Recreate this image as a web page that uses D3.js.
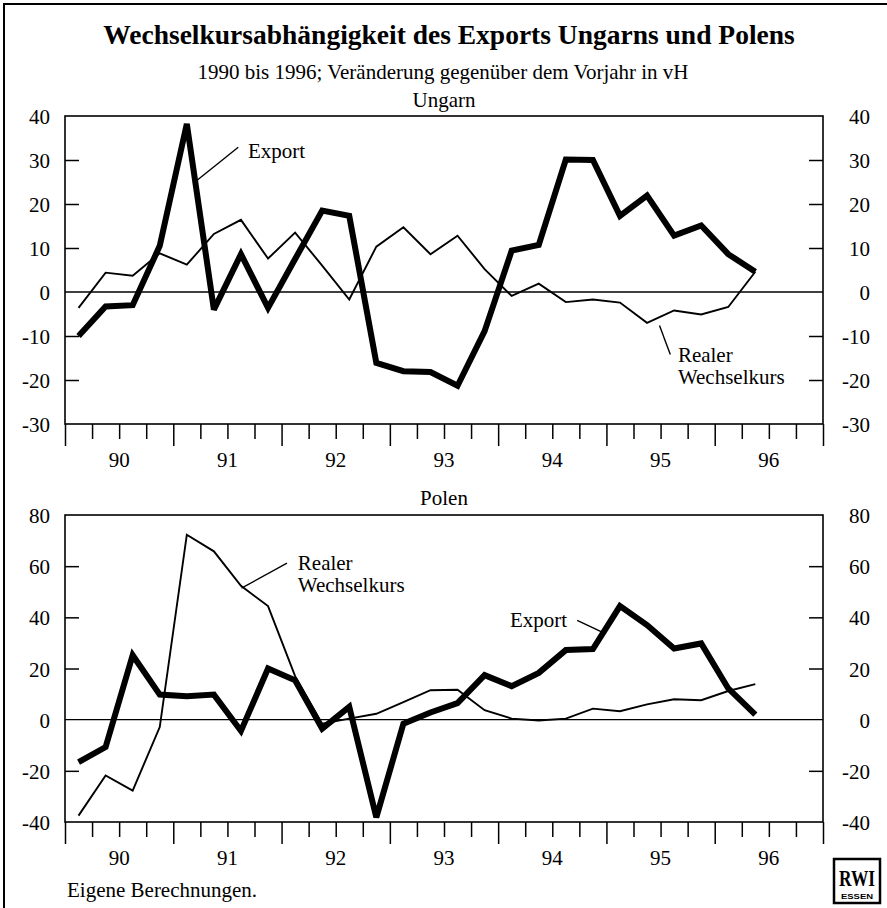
<!DOCTYPE html>
<html>
<head>
<meta charset="utf-8">
<script src="https://cdnjs.cloudflare.com/ajax/libs/d3/7.8.5/d3.min.js"></script>
<style>
  html, body { margin: 0; padding: 0; background: #fff; }
  svg text { font-family: "Liberation Serif", "Times New Roman", serif; fill: #000; }
</style>
</head>
<body>
<svg id="chart"></svg>
<script>
const WIDTH = 887;
const HEIGHT = 908;
const SERIF = '"Liberation Serif", "Times New Roman", serif';

// years on the x axis, quarterly data 1990 Q1 .. 1996 Q2
const years = [1990, 1991, 1992, 1993, 1994, 1995, 1996];
const yearLabels = ['90', '91', '92', '93', '94', '95', '96'];

// Ungarn
const hunExport = [-10.0, -3.3, -3.0, 10.5, 38.2, -4.0, 8.6, -3.6, 7.5, 18.5, 17.3, -16.1, -18.0,
                   -18.2, -21.3, -8.9, 9.4, 10.7, 30.1, 30.0, 17.3, 21.9, 12.8, 15.1, 8.6, 4.6];
const hunRate   = [-3.6, 4.4, 3.7, 8.8, 6.2, 13.2, 16.4, 7.6, 13.5, 6.0, -1.7, 10.3, 14.7,
                   8.6, 12.8, 5.2, -0.9, 1.9, -2.3, -1.7, -2.4, -7.0, -4.2, -5.1, -3.4, 4.6];
const hunTicks  = [40, 30, 20, 10, 0, -10, -20, -30];

// Polen
const polExport = [-16.6, -10.7, 25.2, 9.8, 9.2, 9.8, -4.4, 20.0, 15.4, -3.5, 5.0, -38.2, -1.6,
                   2.8, 6.5, 17.4, 13.1, 18.3, 27.2, 27.6, 44.4, 37.0, 27.8, 29.8, 12.2, 2.0];
const polRate   = [-37.5, -21.8, -27.7, -2.9, 72.3, 65.8, 52.3, 44.4, 17.0, -1.6, 0.4, 2.3, 6.9,
                   11.5, 11.7, 3.7, 0.4, -0.3, 0.4, 4.3, 3.3, 6.0, 8.0, 7.6, 11.2, 13.9];
const polTicks  = [80, 60, 40, 20, 0, -20, -40];

// annotations in data units (year, value)
const hunNotes = [
  { lines: ['Export'], x: 1991.69, y: 30.4, from: [1991.60, 32.9], to: [1991.22, 25.4] },
  { lines: ['Realer', 'Wechselkurs'], x: 1995.66, y: -15.8, from: [1995.59, -14.2], to: [1995.49, -7.6] }
];
const polNotes = [
  { lines: ['Realer', 'Wechselkurs'], x: 1992.15, y: 58.4, from: [1992.05, 61.2], to: [1991.63, 51.4] },
  { lines: ['Export'], x: 1994.11, y: 36.1, from: [1994.73, 38.8], to: [1994.96, 34.2] }
];

const left = 65, right = 823;
const FONT = 21;

let svg = d3.select('#chart')
    .attr('width', WIDTH)
    .attr('height', HEIGHT);

// outer border (top and left edge of the scanned page)
svg.append('line').attr('x1', 3).attr('y1', 4).attr('x2', WIDTH).attr('y2', 4)
    .attr('stroke', '#000').attr('stroke-width', 2);
svg.append('line').attr('x1', 4).attr('y1', 3).attr('x2', 4).attr('y2', HEIGHT)
    .attr('stroke', '#000').attr('stroke-width', 2);

// titles
svg.append('text')
    .attr('x', 449).attr('y', 44)
    .attr('text-anchor', 'middle')
    .style('font-size', '27.5px').style('font-weight', 'bold')
    .text('Wechselkursabhängigkeit des Exports Ungarns und Polens');
svg.append('text')
    .attr('x', 443).attr('y', 79)
    .attr('text-anchor', 'middle')
    .style('font-size', FONT + 'px')
    .text('1990 bis 1996; Veränderung gegenüber dem Vorjahr in vH');

let x = d3.scaleLinear().domain([1990, 1997]).range([left, right]);
let qx = (i) => x(1990 + (i + 0.5) / 4);

drawPanel({ name: 'Ungarn', titleY: 107, top: 116, bottom: 424, domain: [-30, 40],
            ticks: hunTicks, exp: hunExport, rate: hunRate, notes: hunNotes });
drawPanel({ name: 'Polen', titleY: 505, top: 515, bottom: 822, domain: [-40, 80],
            ticks: polTicks, exp: polExport, rate: polRate, notes: polNotes });

function drawPanel(p){
    let y = d3.scaleLinear().domain(p.domain).range([p.bottom, p.top]);
    let g = svg.append('g');

    g.append('text')
        .attr('x', 444).attr('y', p.titleY)
        .attr('text-anchor', 'middle')
        .style('font-size', FONT + 'px')
        .text(p.name);

    // inner tick marks on both sides (not at frame edges or zero)
    let inner = p.ticks.filter((t) => t !== 0 && t !== p.domain[0] && t !== p.domain[1]);

    let yl = g.append('g')
        .attr('transform', `translate(${left},0)`)
        .call(d3.axisLeft(y).tickValues(p.ticks).tickSize(0).tickPadding(15)
            .tickFormat((d) => String(d)));
    yl.select('.domain').remove();
    yl.attr('font-family', SERIF).attr('font-size', FONT);
    yl.selectAll('text').style('font-family', SERIF).style('font-size', FONT + 'px').attr('dy', '0.36em');

    let yr = g.append('g')
        .attr('transform', `translate(${right},0)`)
        .call(d3.axisRight(y).tickValues(p.ticks).tickSize(0).tickPadding(0)
            .tickFormat((d) => String(d)));
    yr.select('.domain').remove();
    yr.attr('font-family', SERIF).attr('font-size', FONT);
    yr.selectAll('text').style('font-family', SERIF).style('font-size', FONT + 'px')
        .attr('text-anchor', 'end').attr('x', 47).attr('dy', '0.36em');

    g.append('g')
        .attr('transform', `translate(${left},0)`)
        .call(d3.axisRight(y).tickValues(inner).tickSize(14).tickFormat(''))
        .call((s) => s.select('.domain').remove())
        .selectAll('line').attr('stroke-width', 1.5);
    g.append('g')
        .attr('transform', `translate(${right},0)`)
        .call(d3.axisLeft(y).tickValues(inner).tickSize(14).tickFormat(''))
        .call((s) => s.select('.domain').remove())
        .selectAll('line').attr('stroke-width', 1.5);

    // x axis: quarter ticks below the frame, year ticks longer
    let quarterTicks = d3.range(1990, 1997.01, 0.25);
    g.append('g')
        .attr('transform', `translate(0,${p.bottom})`)
        .call(d3.axisBottom(x).tickValues(quarterTicks.filter((t) => t % 1 !== 0)).tickSize(15).tickFormat(''))
        .call((s) => s.select('.domain').remove())
        .selectAll('line').attr('stroke-width', 1.5);
    g.append('g')
        .attr('transform', `translate(0,${p.bottom})`)
        .call(d3.axisBottom(x).tickValues(years.concat([1997])).tickSize(22).tickFormat(''))
        .call((s) => s.select('.domain').remove())
        .selectAll('line').attr('stroke-width', 1.5);

    g.append('g')
        .selectAll('text')
        .data(years)
        .enter()
        .append('text')
            .attr('x', (d) => x(d + 0.5))
            .attr('y', p.bottom + 43)
            .attr('text-anchor', 'middle')
            .style('font-family', SERIF)
            .style('font-size', FONT + 'px')
            .text((d, i) => yearLabels[i]);

    // frame and zero line
    g.append('rect')
        .attr('x', left).attr('y', p.top)
        .attr('width', right - left).attr('height', p.bottom - p.top)
        .attr('fill', 'none').attr('stroke', '#000').attr('stroke-width', 1.6);
    g.append('line')
        .attr('x1', left).attr('x2', right)
        .attr('y1', y(0)).attr('y2', y(0))
        .attr('stroke', '#000').attr('stroke-width', 1.4);

    let line = d3.line().x((d, i) => qx(i)).y((d) => y(d));

    g.append('path')
        .datum(p.rate)
        .attr('d', line)
        .attr('fill', 'none').attr('stroke', '#000').attr('stroke-width', 1.9)
        .attr('stroke-linejoin', 'miter');
    g.append('path')
        .datum(p.exp)
        .attr('d', line)
        .attr('fill', 'none').attr('stroke', '#000').attr('stroke-width', 6)
        .attr('stroke-linejoin', 'miter').attr('stroke-miterlimit', 3);

    // labels with leader lines
    p.notes.forEach((n) => {
        g.append('line')
            .attr('x1', x(n.from[0])).attr('y1', y(n.from[1]))
            .attr('x2', x(n.to[0])).attr('y2', y(n.to[1]))
            .attr('stroke', '#000').attr('stroke-width', 1.4);
        let t = g.append('text')
            .attr('x', x(n.x)).attr('y', y(n.y))
            .style('font-size', FONT + 'px');
        n.lines.forEach((s, k) => {
            t.append('tspan').attr('x', x(n.x)).attr('dy', k === 0 ? 0 : 22).text(s);
        });
    });
}

// footer
svg.append('text')
    .attr('x', 67).attr('y', 897)
    .style('font-size', FONT + 'px')
    .text('Eigene Berechnungen.');

// RWI logo
let logo = svg.append('g').attr('transform', 'translate(834,859)');
logo.append('rect')
    .attr('width', 46).attr('height', 44)
    .attr('fill', '#fff').attr('stroke', '#000').attr('stroke-width', 2.5);
logo.append('text')
    .attr('x', 23).attr('y', 27)
    .attr('text-anchor', 'middle')
    .attr('textLength', 36).attr('lengthAdjust', 'spacingAndGlyphs')
    .style('font-size', '24px').style('font-weight', 'bold')
    .text('RWI');
logo.append('text')
    .attr('x', 23).attr('y', 40)
    .attr('text-anchor', 'middle')
    .attr('textLength', 32).attr('lengthAdjust', 'spacingAndGlyphs')
    .style('font-size', '7px').style('font-weight', 'bold')
    .style('font-family', '"Liberation Sans", Arial, sans-serif')
    .text('ESSEN');
</script>
</body>
</html>
